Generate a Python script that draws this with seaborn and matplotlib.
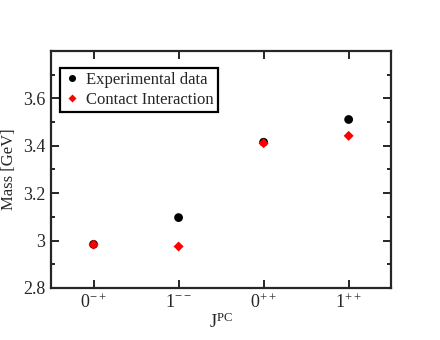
import pandas as pd
import seaborn as sns
import matplotlib.pyplot as plt
from matplotlib.ticker import MultipleLocator

# Data
states = ['0$^{-+}$', '1$^{--}$', '0$^{++}$', '1$^{++}$']
experimental = [2.984, 3.097, 3.415, 3.511]
contact = [2.983, 2.975, 3.411, 3.442]
yticks = [2.8, 3.0, 3.2, 3.4, 3.6]
ytick_labels = ['2.8', '3', '3.2', '3.4', '3.6']

df = pd.DataFrame({
    'x': list(range(len(states))) * 2,
    'mass': experimental + contact,
    'source': ['Experimental data'] * len(states) + ['Contact Interaction'] * len(states),
})

sns.set_style('ticks')
plt.rcParams['font.family'] = ['Liberation Serif', 'DejaVu Serif']
plt.rcParams['mathtext.fontset'] = 'custom'
plt.rcParams['mathtext.rm'] = 'Liberation Serif'
plt.rcParams['mathtext.it'] = 'Liberation Serif:italic'

fig, ax = plt.subplots(figsize=(4.4, 3.4), dpi=100)
fig.subplots_adjust(left=0.116, right=0.889, top=0.85, bottom=0.153)

sns.scatterplot(data=df, x='x', y='mass', hue='source', style='source', size='source',
                palette={'Experimental data': 'black', 'Contact Interaction': 'red'},
                markers={'Experimental data': 'o', 'Contact Interaction': 'D'},
                sizes={'Experimental data': 40, 'Contact Interaction': 26},
                edgecolor='none', ax=ax, zorder=3)

ax.set_xlim(-0.5, 3.5)
ax.set_ylim(2.8, 3.8)
ax.set_xticks(range(len(states)))
ax.set_xticklabels(states)
ax.set_yticks(yticks)
ax.set_yticklabels(ytick_labels)
ax.yaxis.set_minor_locator(MultipleLocator(0.1))

ax.set_xlabel('J$^{\\mathrm{PC}}$', fontsize=13, labelpad=0)
ax.set_ylabel('Mass [GeV]', fontsize=12)
ax.yaxis.set_label_coords(-0.1, 0.5)

for sp in ax.spines.values():
    sp.set_linewidth(1.6)
    sp.set_visible(True)
ax.tick_params(which='both', direction='in', top=True, right=True, labelsize=13, width=1.4)
ax.tick_params(which='major', length=6, pad=4)
ax.tick_params(which='minor', length=3)

leg = ax.legend(loc='upper left', bbox_to_anchor=(0.026, 0.93), borderaxespad=0,
                fontsize=12, frameon=True, fancybox=False, handletextpad=0.3,
                handlelength=1.0, borderpad=0.25, labelspacing=0.25, markerscale=0.8)
leg.get_frame().set_edgecolor('black')
leg.get_frame().set_linewidth(1.6)
leg.get_frame().set_alpha(1)

fig.savefig('out.png', dpi=100)
